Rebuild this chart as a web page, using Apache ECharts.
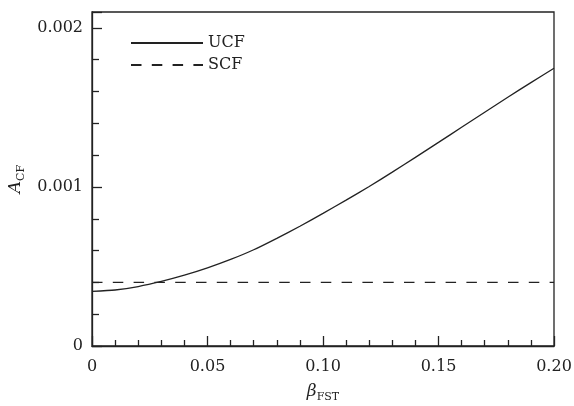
<!DOCTYPE html>
<html>
<head>
<meta charset="utf-8">
<script src="https://cdn.jsdelivr.net/npm/echarts@6/dist/echarts.min.js"></script>
<style>
  html, body { margin: 0; padding: 0; background: #fff; }
  #main { width: 574px; height: 406px; }
</style>
</head>
<body>
<div id="main"></div>
<script>
// beta_FST values and the two curves
var beta = [0, 0.01, 0.02, 0.03, 0.04, 0.05, 0.06, 0.07, 0.08, 0.09, 0.10,
            0.11, 0.12, 0.13, 0.14, 0.15, 0.16, 0.17, 0.18, 0.19, 0.20];
var ucf = [0.000343, 0.000352, 0.000374, 0.000406, 0.000445, 0.000491, 0.000544,
           0.000605, 0.000677, 0.000753, 0.000834, 0.000917, 0.001003, 0.001093,
           0.001186, 0.001280, 0.001375, 0.001470, 0.001564, 0.001656, 0.001746];
var scf = [0.0004, 0.0004];
var scfX = [0, 0.20];

var ink = "#222";
var font = "DejaVu Serif";

var chart = echarts.init(document.getElementById("main"));

function pairs(xs, ys) {
  var out = [];
  for (var i = 0; i < xs.length; i++) out.push([xs[i], ys[i]]);
  return out;
}

chart.setOption({
  animation: false,
  grid: {
    left: 92, right: 20, top: 12, bottom: 60,
    outerBoundsMode: "none",
    containLabel: false,
    show: true, borderColor: ink, borderWidth: 1.3
  },
  legend: {
    orient: "vertical",
    left: 130, top: 35,
    itemWidth: 72, itemHeight: 14, itemGap: 6,
    padding: 0,
    itemStyle: { opacity: 0 },
    textStyle: { fontFamily: font, fontSize: 16, color: ink, padding: [0, 0, 0, 0] },
    data: ["UCF", "SCF"]
  },
  xAxis: {
    type: "value",
    min: 0, max: 0.2, interval: 0.05,
    name: "{b|β}{s|FST}",
    nameLocation: "middle",
    nameGap: 35,
    nameTextStyle: {
      rich: {
        b: { fontFamily: font, fontStyle: "italic", fontSize: 17, color: ink, lineHeight: 22 },
        s: { fontFamily: font, fontSize: 11, color: ink, lineHeight: 22, verticalAlign: "bottom", padding: [6, 0, 0, 0] }
      }
    },
    axisLine: { lineStyle: { color: ink, width: 1.3 } },
    axisTick: { inside: true, length: 10, lineStyle: { color: ink, width: 1.3 } },
    minorTick: { show: true, splitNumber: 5, length: 6, lineStyle: { color: ink, width: 1.3 } },
    splitLine: { show: false },
    axisLabel: {
      margin: 13, fontFamily: font, fontSize: 16, color: ink,
      formatter: function (v) { return v === 0 ? "0" : v.toFixed(2); }
    }
  },
  yAxis: {
    type: "value",
    min: 0, max: 0.0021, interval: 0.001,
    name: "{a|A}{s|CF}",
    nameLocation: "middle",
    nameGap: 65,
    nameRotate: 90,
    nameTextStyle: {
      rich: {
        a: { fontFamily: font, fontStyle: "italic", fontSize: 17, color: ink, lineHeight: 22 },
        s: { fontFamily: font, fontSize: 11, color: ink, lineHeight: 22, verticalAlign: "bottom", padding: [6, 0, 0, 0] }
      }
    },
    axisLine: { lineStyle: { color: ink, width: 1.3 } },
    axisTick: { inside: true, length: 10, lineStyle: { color: ink, width: 1.3 } },
    minorTick: { show: true, splitNumber: 5, length: 7, lineStyle: { color: ink, width: 1.3 } },
    splitLine: { show: false },
    axisLabel: {
      margin: 9, fontFamily: font, fontSize: 16, color: ink, showMaxLabel: false,
      formatter: function (v) { return v === 0 ? "0" : v.toFixed(3); }
    }
  },
  series: [
    {
      name: "UCF",
      type: "line",
      smooth: 0.2,
      symbol: "none",
      lineStyle: { color: ink, width: 1.3 },
      itemStyle: { color: ink },
      data: pairs(beta, ucf)
    },
    {
      name: "SCF",
      type: "line",
      symbol: "none",
      lineStyle: { color: ink, width: 1.3, type: [10.5, 10.3] },
      itemStyle: { color: ink },
      data: pairs(scfX, scf)
    }
  ]
});
</script>
</body>
</html>
